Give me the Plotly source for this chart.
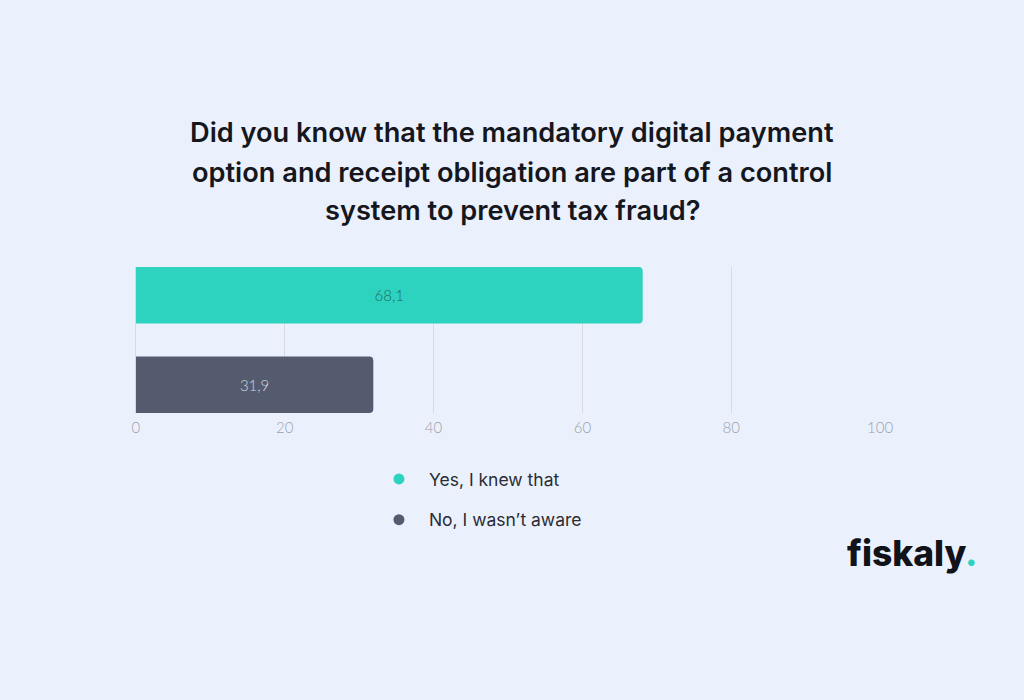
import plotly.graph_objects as go

categories = ["Yes, I knew that", "No, I wasn\u2019t aware"]
values = [68.1, 31.9]
value_labels = ["68,1", "31,9"]
colors = ["#2ED3C0", "#555B6E"]
text_colors = ["#1E6B60", "#D0D4DE"]
tick_vals = [0, 20, 40, 60, 80, 100]
title_lines = ["Did you know that the mandatory digital payment",
               "option and receipt obligation are part of a control",
               "system to prevent tax fraud?"]

W, H = 1024, 700
WX = 1008  # effective rendered width used for horizontal placement
bg = "#EBF1FC"
bw = 0.63


def fx(px):
    return (px - 3) / WX


fig = go.Figure()
fig.add_trace(go.Bar(
    x=values, y=categories, orientation="h",
    marker=dict(color=colors, cornerradius=4, line=dict(width=0)),
    text=value_labels, textposition="inside", insidetextanchor="middle",
    textfont=dict(family="Lato", size=15, color=text_colors, weight=300),
    showlegend=False, width=bw, hoverinfo="skip",
))
for i, (c, col) in enumerate(zip(categories, colors)):
    fig.add_trace(go.Scatter(
        x=[None], y=[None], mode="markers", name=c,
        marker=dict(symbol="circle", size=11, color=col),
        legendgroup=f"g{i}", showlegend=True,
    ))

title_y = [133, 172, 211]
annotations = [
    dict(text=t, x=fx(512), y=1 - yy / H, xref="paper", yref="paper",
         xanchor="center", yanchor="middle", showarrow=False,
         font=dict(family="Inter", size=27.2, color="#15171C", weight=600))
    for t, yy in zip(title_lines, title_y)
]
annotations.append(
    dict(text="fiskaly<span style='color:#2ED3C0'>.</span>", x=0.902, y=1 - 553 / H,
         xref="paper", yref="paper", xanchor="center", yanchor="middle",
         showarrow=False,
         font=dict(family="Inter", size=35.4, color="#111318", weight=800)))

fig.update_layout(
    width=W, height=H, autosize=False,
    paper_bgcolor=bg, plot_bgcolor=bg,
    margin=dict(l=0, r=0, t=0, b=0),
    showlegend=True,
    legend=dict(x=0.3624, y=1 - 461 / H, xanchor="left", yanchor="top",
                bgcolor="rgba(0,0,0,0)", tracegroupgap=15,
                font=dict(family="Inter", size=17.5, color="#2A2D35"),
                itemwidth=50),
    xaxis=dict(domain=[fx(135), fx(880)], range=[0, 100], tickvals=tick_vals,
               showgrid=True, gridcolor="#D6DBE4", gridwidth=1,
               zeroline=True, zerolinecolor="#D6DBE4", zerolinewidth=1,
               showline=False, ticks="", ticklen=0, ticklabelstandoff=4,
               fixedrange=True,
               tickfont=dict(family="Lato", size=15, color="#9AA0AC", weight=300)),
    yaxis=dict(domain=[1 - 413 / H, 1 - 267 / H], range=[1 + bw / 2, -bw / 2],
               showticklabels=False, showgrid=False, zeroline=False, ticks="",
               fixedrange=True),
    annotations=annotations,
)

fig.write_html(
    "out.html",
    config={"responsive": False, "displayModeBar": False},
    default_width="1024px", default_height="700px",
    post_script="document.body.style.margin='0';document.body.style.overflow='hidden';",
)
